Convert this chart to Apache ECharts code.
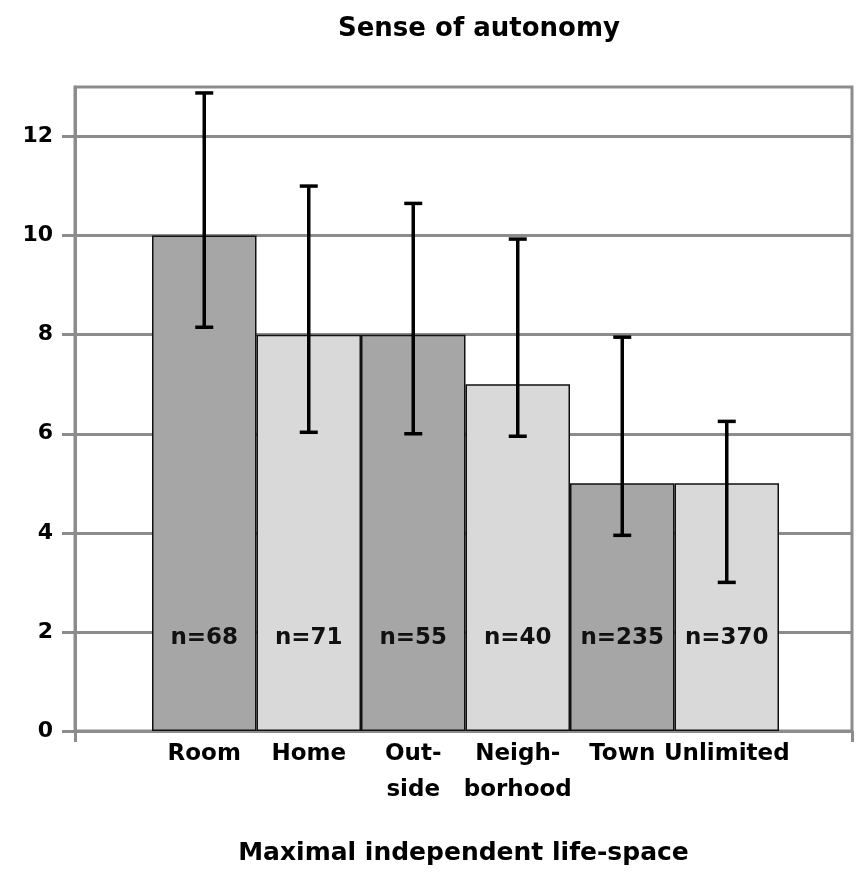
<!DOCTYPE html>
<html>
<head>
<meta charset="utf-8">
<script src="https://cdn.jsdelivr.net/npm/echarts@6/dist/echarts.min.js"></script>
<style>html,body{margin:0;padding:0;background:#fff;}#c{width:866px;height:882px;}</style>
</head>
<body>
<div id="c"></div>
<script>
const categories = ['Room', 'Home', 'Out-\nside', 'Neigh-\nborhood', 'Town', 'Unlimited'];
const means = [10, 8, 8, 7, 5, 5];
const errLow = [8.15, 6.03, 6.0, 5.95, 3.95, 3.0];
const errHigh = [12.88, 11.0, 10.65, 9.93, 7.95, 6.25];
const nCounts = [68, 71, 55, 40, 235, 370];
const yTicks = [0, 2, 4, 6, 8, 10, 12];

const FONT = 'DejaVu Sans';
const GRAY = '#8c8c8c';
const barColors = ['#a6a6a6', '#d9d9d9'];

const chart = echarts.init(document.getElementById('c'));
chart.setOption({
  animation: false,
  backgroundColor: '#fff',
  title: {
    text: 'Sense of autonomy',
    left: 333, top: 11,
    textStyle: { fontFamily: FONT, fontWeight: 'bold', fontSize: 26, color: '#000' }
  },
  grid: [
    { left: 75, right: 14, top: 87, bottom: 151, show: true, borderColor: GRAY, borderWidth: 3, backgroundColor: 'transparent' },
    { left: 152, right: 87, top: 87, bottom: 151 }
  ],
  xAxis: [
    {
      gridIndex: 0, type: 'value', min: 0, max: 1, interval: 1,
      axisLine: { show: true, lineStyle: { color: GRAY, width: 3 } },
      axisTick: { show: true, length: 11, lineStyle: { color: GRAY, width: 3 } },
      axisLabel: { show: false },
      splitLine: { show: false },
      name: 'Maximal independent life-space',
      nameLocation: 'middle', nameGap: 110,
      nameTextStyle: { fontFamily: FONT, fontWeight: 'bold', fontSize: 25, color: '#000' }
    },
    {
      gridIndex: 1, type: 'category', data: categories,
      axisLine: { show: false }, axisTick: { show: false },
      axisLabel: { fontFamily: FONT, fontWeight: 'bold', fontSize: 23, color: '#000', margin: 5, lineHeight: 36, interval: 0, align: 'center' },
      splitLine: { show: false }
    }
  ],
  yAxis: [
    {
      gridIndex: 0, type: 'value', min: 0, max: 13, interval: 2,
      axisLine: { show: true, lineStyle: { color: GRAY, width: 3 } },
      axisTick: { show: true, length: 13, customValues: yTicks, lineStyle: { color: GRAY, width: 3 } },
      axisLabel: { customValues: yTicks, margin: 22, fontFamily: FONT, fontWeight: 'bold', fontSize: 22, color: '#000' },
      splitLine: { show: true, lineStyle: { color: GRAY, width: 3 } }
    },
    { gridIndex: 1, type: 'value', min: 0, max: 13, show: false, splitLine: { show: false } }
  ],
  series: [
    {
      type: 'bar', xAxisIndex: 1, yAxisIndex: 1,
      barCategoryGap: 0, barWidth: '100%',
      data: means.map((v, i) => ({ value: v, itemStyle: { color: barColors[i % 2] } })),
      itemStyle: { borderColor: '#111', borderWidth: 1.5 },
      label: {
        show: true, position: 'insideBottom', distance: 81,
        formatter: p => 'n=' + nCounts[p.dataIndex],
        fontFamily: FONT, fontWeight: 'bold', fontSize: 23, color: '#111'
      },
      z: 2
    },
    {
      type: 'custom', xAxisIndex: 1, yAxisIndex: 1, z: 5,
      data: errLow.map((lo, i) => [i, lo, errHigh[i]]),
      encode: { x: 0, y: [1, 2] },
      renderItem: function (params, api) {
        const x = api.value(0);
        const lo = api.coord([x, api.value(1)]);
        const hi = api.coord([x, api.value(2)]);
        const hw = 9;
        const st = { stroke: '#000', lineWidth: 3.5 };
        return {
          type: 'group',
          children: [
            { type: 'line', shape: { x1: hi[0], y1: hi[1], x2: lo[0], y2: lo[1] }, style: st },
            { type: 'line', shape: { x1: hi[0] - hw, y1: hi[1], x2: hi[0] + hw, y2: hi[1] }, style: st },
            { type: 'line', shape: { x1: lo[0] - hw, y1: lo[1], x2: lo[0] + hw, y2: lo[1] }, style: st }
          ]
        };
      }
    }
  ]
});
</script>
</body>
</html>
